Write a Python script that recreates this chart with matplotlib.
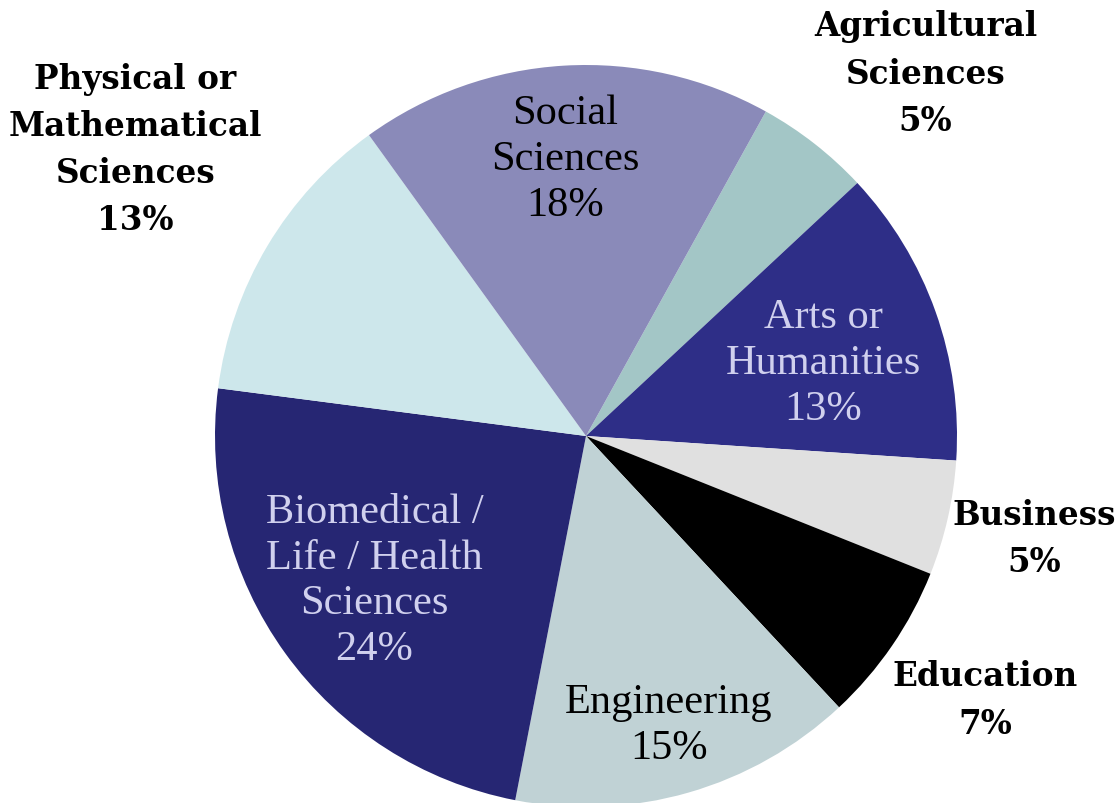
import numpy as np
import matplotlib.pyplot as plt

labels = ['Agricultural\nSciences', 'Arts or\nHumanities', 'Business', 'Education',
          'Engineering', 'Biomedical /\nLife / Health\nSciences',
          'Physical or\nMathematical\nSciences', 'Social\nSciences']
shares = [5, 13, 5, 7, 15, 24, 13, 18]
colors = ['#A3C6C6', '#2E2E87', '#E0E0E0', '#000000', '#C0D2D5', '#262673', '#CDE7EB', '#8A8AB9']
inside = [False, True, False, False, True, True, False, True]
text_colors = ['black', '#D0D0EE', 'black', 'black', 'black', '#D0D0EE', 'black', 'black']
# label placement: distance (fraction of radius) and angle shift from wedge middle
label_dist = [1.34, 0.67, 1.24, 1.29, 0.81, 0.69, 1.44, 0.75]
label_shift = [-5.1, -2.4, 0, 1.0, 0, -1.5, -1.7, 0.9]

W, H = 1116, 804
fig = plt.figure(figsize=(W / 100, H / 100), dpi=100)
ax = fig.add_axes([0, 0, 1, 1])

cx, cy, r = 586, H - 437, 371
wedges, _ = ax.pie(shares, colors=colors, startangle=61, counterclock=False,
                   center=(cx, cy), radius=r, frame=True)
ax.set_xlim(0, W)
ax.set_ylim(0, H)
ax.set_aspect('equal')
ax.axis('off')

for w, lab, val, ins, tc, d, s in zip(wedges, labels, shares, inside, text_colors,
                                      label_dist, label_shift):
    mid = np.deg2rad((w.theta1 + w.theta2) / 2 + s)
    x = cx + d * r * np.cos(mid)
    y = cy + d * r * np.sin(mid)
    txt = f'{lab}\n{val}%'
    if ins:
        ax.text(x, y, txt, ha='center', va='center', color=tc, fontsize=30.5,
                family='Liberation Serif', linespacing=1.25)
    else:
        ax.text(x, y, txt, ha='center', va='center', color=tc, fontsize=23.5,
                family='DejaVu Serif', fontweight='bold', linespacing=1.55)

fig.savefig('out.png', dpi=100)
